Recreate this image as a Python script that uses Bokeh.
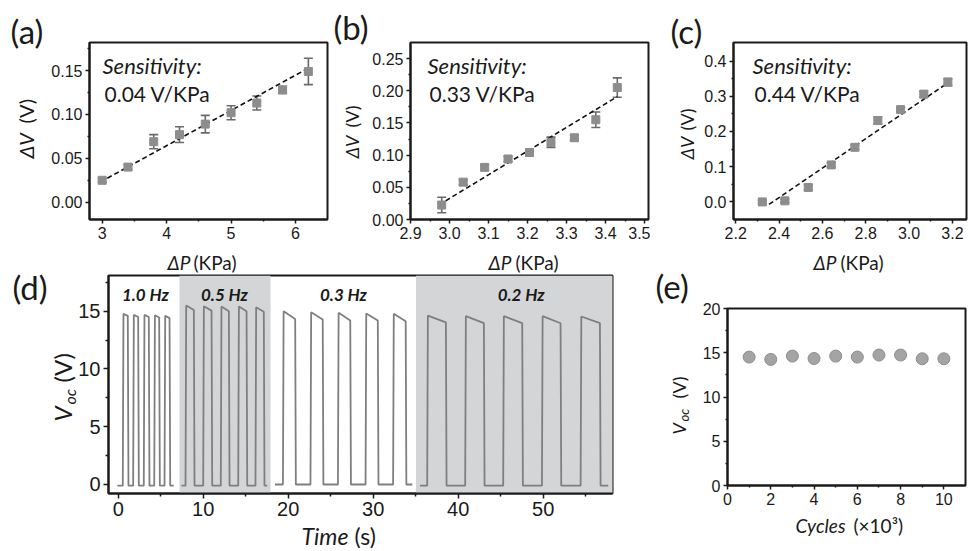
import math
from bokeh.plotting import figure
from bokeh.models import (Label, Whisker, ColumnDataSource, BoxAnnotation, FixedTicker,
                          TeeHead, Range1d, NumeralTickFormatter, GridBox)
from bokeh.layouts import row, column
from bokeh.embed import file_html
from bokeh.resources import INLINE

# ---------------- data ----------------
# (a)
a_x = [3.0, 3.4, 3.8, 4.2, 4.6, 5.0, 5.4, 5.8, 6.2]
a_y = [0.025, 0.040, 0.069, 0.077, 0.089, 0.102, 0.113, 0.128, 0.149]
a_err = [0.002, 0.003, 0.008, 0.009, 0.010, 0.008, 0.008, 0.004, 0.015]
a_fit_x = [2.97, 6.23]
a_fit_y = [0.023, 0.154]
a_sens = "0.04 V/KPa"
# (b)
b_x = [2.98, 3.035, 3.09, 3.15, 3.205, 3.26, 3.32, 3.375, 3.43]
b_y = [0.0225, 0.058, 0.081, 0.094, 0.104, 0.120, 0.127, 0.155, 0.205]
b_err = [0.012, 0.004, 0.004, 0.004, 0.005, 0.008, 0.004, 0.012, 0.015]
b_fit_x = [2.99, 3.43]
b_fit_y = [0.029, 0.191]
b_sens = "0.33 V/KPa"
# (c)
c_x = [2.323, 2.427, 2.535, 2.641, 2.750, 2.856, 2.961, 3.068, 3.179]
c_y = [0.000, 0.003, 0.041, 0.105, 0.155, 0.231, 0.262, 0.306, 0.340]
c_err = [0.005, 0.005, 0.008, 0.006, 0.006, 0.010, 0.006, 0.008, 0.010]
c_fit_x = [2.354, 3.184]
c_fit_y = [-0.007, 0.340]
c_sens = "0.44 V/KPa"
# (d) open-circuit voltage waveform, one segment per frequency
freq_labels = ["1.0 Hz", "0.5 Hz", "0.3 Hz", "0.2 Hz"]
freq_label_x = [3.2, 12.5, 26.5, 47.4]
seg_start = [-0.1, 7.45, 18.44, 35.5]
seg_end = [6.54, 17.53, 34.6, 57.65]
seg_base = [-0.1, -0.1, 0.0, -0.1]
pulse_rise = [
    [0.54, 1.76, 3.01, 4.24, 5.45],
    [7.92, 10.00, 12.07, 14.12, 16.15],
    [19.38, 22.62, 25.85, 29.10, 32.34],
    [36.35, 40.82, 45.29, 49.85, 54.40],
]
pulse_fall = [
    [1.13, 2.35, 3.60, 4.82, 6.04],
    [8.90, 10.98, 13.02, 15.10, 17.13],
    [20.82, 24.06, 27.30, 30.54, 33.82],
    [38.55, 43.02, 47.53, 52.04, 56.67],
]
pulse_top_start = [
    [14.77, 14.68, 14.68, 14.65, 14.60],
    [15.49, 15.43, 15.40, 15.40, 15.35],
    [15.00, 14.90, 14.86, 14.80, 14.77],
    [14.62, 14.57, 14.57, 14.57, 14.54],
]
pulse_top_end = [
    [14.60, 14.50, 14.50, 14.45, 14.40],
    [15.10, 15.05, 15.00, 15.00, 14.95],
    [14.33, 14.28, 14.20, 14.20, 14.13],
    [14.04, 13.96, 13.96, 13.96, 13.96],
]
shade_bands = [(7.21, 17.92), (35.03, 58.2)]
edge_time = 0.08
# (e)
e_x = [1, 2, 3, 4, 5, 6, 7, 8, 9, 10]
e_y = [14.51, 14.25, 14.62, 14.35, 14.62, 14.51, 14.74, 14.74, 14.32, 14.32]

# ---------------- styling helpers ----------------
LAT = "Lato"
ARI = "Liberation Sans"
TXT = "#1a1a1a"
W, H = 970, 551
HALF_PI = math.pi / 2


def make_fig(fw, fh, lb, rb, tb, bb, xr, yr):
    p = figure(width=lb + fw + rb, height=tb + fh + bb,
               min_border_left=lb, min_border_right=rb,
               min_border_top=tb, min_border_bottom=bb,
               x_range=Range1d(*xr), y_range=Range1d(*yr),
               output_backend="svg", toolbar_location=None, title_location=None,
               frame_align=False,
               background_fill_color="white", border_fill_color="white")
    p.grid.visible = False
    p.outline_line_color = TXT
    p.outline_line_width = 2
    p.outline_line_alpha = 1
    for ax in (p.xaxis[0], p.yaxis[0]):
        ax.axis_line_width = 2
        ax.axis_line_color = TXT
        ax.major_tick_line_width = 1.5
        ax.minor_tick_line_width = 1.5
        ax.major_tick_line_color = TXT
        ax.minor_tick_line_color = TXT
        ax.major_tick_in = 0
        ax.major_tick_out = 4
        ax.minor_tick_in = 0
        ax.minor_tick_out = 2
        ax.major_label_text_font = ARI
        ax.major_label_text_color = TXT
        ax.major_label_standoff = 3
    return p


# transparent overlay figure covering the page, for the texts around the frames
ov = figure(width=W, height=H, x_range=Range1d(0, W), y_range=Range1d(H, 0),
            min_border=0, x_axis_type=None, y_axis_type=None,
            output_backend="svg", toolbar_location=None, title_location=None,
            frame_align=False,
            background_fill_color=None, border_fill_color=None)
ov.grid.visible = False
ov.outline_line_color = None


def olab(text, px, py, size, style="normal", angle=0.0):
    ov.add_layout(Label(x=px, y=py, text=text, text_font=LAT, text_font_size=f"{size}px",
                        text_font_style=style, text_align="left", text_baseline="middle",
                        angle=angle, text_color=TXT))


def flab(p, geom, text, px, py, size, style="normal"):
    fl, fb = geom
    p.add_layout(Label(x=px - fl, y=fb - py, x_units="screen", y_units="screen", text=text,
                       text_font=LAT, text_font_size=f"{size}px", text_font_style=style,
                       text_align="left", text_baseline="middle", text_color=TXT))


def sens_panel(geom, fw, lb, rb, xr, yr, xs, ys, errs, fx, fy, xticks, xminor, yticks, yminor,
               xfmt, yfmt, letter, letter_x, letter_y, sens, sens_x, ylab_x, ylab_dv, ylab_v,
               ylab_size, xlab_dp, xlab_kpa):
    p = make_fig(fw, 177, lb, rb, 42, 51, xr, yr)
    p.xaxis.ticker = FixedTicker(ticks=xticks, minor_ticks=xminor)
    p.yaxis.ticker = FixedTicker(ticks=yticks, minor_ticks=yminor)
    p.xaxis.formatter = NumeralTickFormatter(format=xfmt)
    p.yaxis.formatter = NumeralTickFormatter(format=yfmt)
    p.xaxis.major_label_text_font_size = "16px"
    p.yaxis.major_label_text_font_size = "16px"
    src = ColumnDataSource(dict(x=xs, y=ys, upper=[v + e for v, e in zip(ys, errs)],
                                lower=[v - e for v, e in zip(ys, errs)]))
    p.line(fx, fy, line_color="#111111", line_width=1.6, line_dash="5 3")
    p.scatter("x", "y", source=src, marker="square", size=8, fill_color="#8d8d8d",
              line_color="#8d8d8d")
    head = dict(size=9, line_color="#6a6a6a", line_width=1.6)
    p.add_layout(Whisker(source=src, base="x", upper="upper", lower="lower",
                         line_color="#6a6a6a", line_width=1.6,
                         upper_head=TeeHead(**head), lower_head=TeeHead(**head)))
    flab(p, geom, "Sensitivity:", sens_x, 64.5, 22, style="italic")
    flab(p, geom, sens, sens_x + 2, 93, 21)
    olab(letter, letter_x, letter_y, 33)
    olab("\u0394V", ylab_x, ylab_dv, ylab_size, style="italic", angle=HALF_PI)
    olab("(V)", ylab_x, ylab_v, ylab_size, angle=HALF_PI)
    olab("\u0394P", xlab_dp, 261.5, 19, style="italic")
    olab("(KPa)", xlab_kpa, 261.5, 19)
    return p


pa = sens_panel((89, 219), 238, 89, 2, (2.803, 6.497), (-0.0197, 0.182), a_x, a_y, a_err,
                a_fit_x, a_fit_y, [3, 4, 5, 6], [3.5, 4.5, 5.5, 6.5],
                [0.0, 0.05, 0.10, 0.15], [0.025, 0.075, 0.125, 0.175], "0", "0.00",
                "(a)", 10, 30, a_sens, 102, 25.5, 158, 123, 20, 167, 193)
pb = sens_panel((410, 219), 238, 81, 2, (2.9, 3.51), (0.0, 0.275), b_x, b_y, b_err,
                b_fit_x, b_fit_y, [2.9, 3.0, 3.1, 3.2, 3.3, 3.4, 3.5],
                [2.95, 3.05, 3.15, 3.25, 3.35, 3.45],
                [0.0, 0.05, 0.10, 0.15, 0.20, 0.25], [0.025, 0.075, 0.125, 0.175, 0.225],
                "0.0", "0.00", "(b)", 333, 26.5, b_sens, 427, 351, 158, 127, 18, 488, 515)
pc = sens_panel((733, 219), 233, 83, 4, (2.19, 3.265), (-0.05, 0.4526), c_x, c_y, c_err,
                c_fit_x, c_fit_y, [2.2, 2.4, 2.6, 2.8, 3.0, 3.2],
                [2.3, 2.5, 2.7, 2.9, 3.1],
                [0.0, 0.1, 0.2, 0.3, 0.4], [0.05, 0.15, 0.25, 0.35],
                "0.0", "0.0", "(c)", 670, 30, c_sens, 752, 686, 159, 130, 18, 813, 840)

# ---------------- (d) ----------------
pd = make_fig(504, 218, 108, 2, 5, 58, (-1.14, 58.15), (-0.78, 18.09))
pd.xaxis.ticker = FixedTicker(ticks=[0, 10, 20, 30, 40, 50], minor_ticks=[5, 15, 25, 35, 45, 55])
pd.yaxis.ticker = FixedTicker(ticks=[0, 5, 10, 15], minor_ticks=[2.5, 7.5, 12.5, 17.5])
for ax in (pd.xaxis[0], pd.yaxis[0]):
    ax.major_label_text_font_size = "20px"
    ax.major_tick_out = 5
    ax.minor_tick_out = 3
for lo, hi in shade_bands:
    pd.add_layout(BoxAnnotation(left=lo, right=hi, fill_color="#d4d5d7", fill_alpha=1.0,
                                line_alpha=0, level="underlay"))
xs_list, ys_list = [], []
for s in range(len(seg_start)):
    base = seg_base[s]
    xs, ys = [seg_start[s]], [base]
    for r, f, t0, t1 in zip(pulse_rise[s], pulse_fall[s], pulse_top_start[s], pulse_top_end[s]):
        xs += [r, r + edge_time, f, f + edge_time]
        ys += [base, t0, t1, base]
    xs.append(seg_end[s])
    ys.append(base)
    xs_list.append(xs)
    ys_list.append(ys)
pd.multi_line(xs_list, ys_list, line_color="#7f7f7f", line_width=1.8)
for t, xx in zip(freq_labels, freq_label_x):
    pd.add_layout(Label(x=xx, y=16.45, text=t, text_font=LAT, text_font_size="17px",
                        text_font_style="bold italic", text_align="center",
                        text_baseline="middle", text_color=TXT))
olab("(d)", 12, 286, 33)
olab("V", 62, 421, 24, style="italic", angle=HALF_PI)
olab("oc", 69, 404, 16, style="italic", angle=HALF_PI)
olab("(V)", 62, 382, 24, angle=HALF_PI)
olab("Time", 301, 535, 23, style="italic")
olab("(s)", 354, 535, 23)

# ---------------- (e) ----------------
pe = make_fig(238, 177, 113, 5, 38, 66, (0, 11.0), (0, 20))
pe.xaxis.ticker = FixedTicker(ticks=[0, 2, 4, 6, 8, 10], minor_ticks=[1, 3, 5, 7, 9])
pe.yaxis.ticker = FixedTicker(ticks=[0, 5, 10, 15, 20], minor_ticks=[2.5, 7.5, 12.5, 17.5])
for ax in (pe.xaxis[0], pe.yaxis[0]):
    ax.major_label_text_font_size = "16px"
pe.scatter(e_x, e_y, marker="circle", size=12, fill_color="#a4a4a4", line_color="#8e8e8e",
           line_width=1)
olab("(e)", 655, 285, 33)
olab("V", 678, 434, 18, style="italic", angle=HALF_PI)
olab("oc", 683, 421, 13, style="italic", angle=HALF_PI)
olab("(V)", 678, 398, 18, angle=HALF_PI)
olab("Cycles", 795, 525, 19, style="italic")
olab("(\u00d710\u00b3)", 853, 525, 19)

main = column(row(pa, pb, pc), row(pd, pe))
page = GridBox(children=[(main, 0, 0), (ov, 0, 0)])
open("out.html", "w").write(file_html(page, INLINE))
